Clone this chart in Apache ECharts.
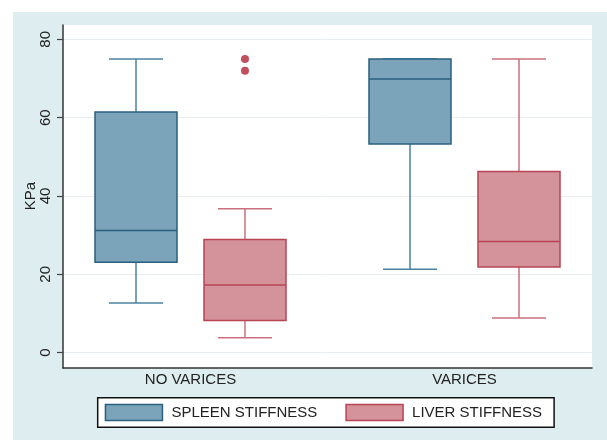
<!DOCTYPE html>
<html>
<head>
<meta charset="utf-8">
<script src="https://cdn.jsdelivr.net/npm/echarts@6/dist/echarts.min.js"></script>
<style>
  html, body { margin: 0; padding: 0; background: #fff; }
  #back { position: absolute; left: 13px; top: 12px; width: 594px; height: 428px; background: #deedf0; }
  #main { position: absolute; left: 0; top: 0; width: 607px; height: 440px; }
</style>
</head>
<body>
<div id="back"></div>
<div id="main"></div>
<script>
const categories = ["NO VARICES", "VARICES"];
const seriesNames = ["SPLEEN STIFFNESS", "LIVER STIFFNESS"];
// [min, q1, median, q3, max] for each category
const spleenBoxes = [[12.7, 23.1, 31.2, 61.5, 75], [21.3, 53.3, 69.9, 75, 75]];
const liverBoxes = [[3.8, 8.2, 17.3, 28.9, 36.8], [8.9, 21.9, 28.4, 46.3, 75]];
// [category index, value]
const liverOutliers = [[0, 75], [0, 72]];
const yTicks = [0, 20, 40, 60, 80];

const font = '"Liberation Sans", Arial, sans-serif';
const spleenLook = { fill: "#7ba3b9", border: "#2a5f80", whisker: "#4a82a2" };
const liverLook = { fill: "#d4929b", border: "#b84455", whisker: "#c8707d" };

function boxRenderer(shift, look) {
  return function (params, api) {
    const cat = api.value(0);
    const pt = (d) => api.coord([cat, api.value(d)]);
    const x = pt(1)[0] + shift;
    const [yMin, yQ1, yMed, yQ3, yMax] = [1, 2, 3, 4, 5].map((d) => pt(d)[1]);
    const hb = 41, hc = 27;
    const ws = { stroke: look.whisker, lineWidth: 1.5 };
    return {
      type: "group",
      children: [
        { type: "line", shape: { x1: x, y1: yMax, x2: x, y2: yQ3 }, style: ws },
        { type: "line", shape: { x1: x, y1: yQ1, x2: x, y2: yMin }, style: ws },
        { type: "line", shape: { x1: x - hc, y1: yMax, x2: x + hc, y2: yMax }, style: ws },
        { type: "line", shape: { x1: x - hc, y1: yMin, x2: x + hc, y2: yMin }, style: ws },
        {
          type: "rect",
          shape: { x: x - hb, y: yQ3, width: 2 * hb, height: yQ1 - yQ3 },
          style: { fill: look.fill, stroke: look.border, lineWidth: 1.5 },
        },
        {
          type: "line",
          shape: { x1: x - hb, y1: yMed, x2: x + hb, y2: yMed },
          style: { stroke: look.border, lineWidth: 1.5 },
        },
      ],
    };
  };
}

const chart = echarts.init(document.getElementById("main"));
const hidden = { show: false };
const option = {
  animation: false,
  grid: [
    { left: 63, top: 25, width: 529, height: 343, show: true, backgroundColor: "#fff", borderWidth: 0 },
    { left: 63, top: 39.3, width: 529, height: 313.4 },
    { left: 53.5, top: 25, width: 548, height: 343 },
  ],
  xAxis: [
    {
      gridIndex: 0, type: "value", min: 0, max: 1,
      axisLine: { show: true, onZero: false, lineStyle: { color: "#333", width: 1.5 } },
      axisTick: hidden, axisLabel: hidden, splitLine: hidden,
    },
    { gridIndex: 1, type: "value", show: false },
    {
      gridIndex: 2, type: "category", data: categories,
      axisLine: hidden, axisTick: hidden, splitLine: hidden,
      axisLabel: { fontSize: 15, color: "#222", fontFamily: font, margin: 4 },
    },
  ],
  yAxis: [
    {
      gridIndex: 0, type: "value", min: -3.9, max: 83.7,
      axisLine: { show: true, onZero: false, lineStyle: { color: "#333", width: 1.5 } },
      axisTick: hidden, axisLabel: hidden, splitLine: hidden,
    },
    {
      gridIndex: 1, type: "value",
      min: yTicks[0], max: yTicks[yTicks.length - 1], interval: yTicks[1] - yTicks[0],
      name: "KPa", nameLocation: "middle", nameGap: 25, nameMoveOverlap: false,
      nameTextStyle: { fontSize: 15, color: "#222", fontFamily: font },
      axisLine: hidden,
      axisTick: { show: true, length: 6, lineStyle: { color: "#444", width: 1.2 } },
      axisLabel: { rotate: 90, fontSize: 15, color: "#222", fontFamily: font, margin: 10 },
      splitLine: { show: true, lineStyle: { color: "#e8eef2", width: 1 } },
    },
    { gridIndex: 2, type: "value", min: -3.9, max: 83.7, show: false },
  ],
  legend: {
    left: 97.7, top: 397.7, padding: [6, 12, 6, 7], itemGap: 28,
    itemWidth: 57, itemHeight: 16,
    backgroundColor: "#fff", borderColor: "#111", borderWidth: 1.5, borderRadius: 0,
    selectedMode: false,
    textStyle: { fontSize: 15, color: "#222", fontFamily: font, padding: [0, 0, 0, 4], lineHeight: 16 },
    data: [
      { name: seriesNames[0], icon: "rect", itemStyle: { color: spleenLook.fill, borderColor: spleenLook.border, borderWidth: 1.5 } },
      { name: seriesNames[1], icon: "rect", itemStyle: { color: liverLook.fill, borderColor: liverLook.border, borderWidth: 1.5 } },
    ],
  },
  series: [
    {
      name: seriesNames[0], type: "custom", xAxisIndex: 2, yAxisIndex: 2,
      itemStyle: { color: spleenLook.fill },
      encode: { x: 0, y: [1, 2, 3, 4, 5] },
      renderItem: boxRenderer(-54.5, spleenLook),
      data: spleenBoxes.map((b, i) => [i].concat(b)),
    },
    {
      name: seriesNames[1], type: "custom", xAxisIndex: 2, yAxisIndex: 2,
      itemStyle: { color: liverLook.fill },
      encode: { x: 0, y: [1, 2, 3, 4, 5] },
      renderItem: boxRenderer(54.5, liverLook),
      data: liverBoxes.map((b, i) => [i].concat(b)),
    },
    {
      name: "LIVER OUTLIERS", type: "scatter", xAxisIndex: 2, yAxisIndex: 2,
      symbol: "circle", symbolSize: 8, symbolOffset: [54.5, 0],
      itemStyle: { color: "#b02436" },
      data: liverOutliers,
    },
  ],
};
chart.setOption(option);
</script>
</body>
</html>
